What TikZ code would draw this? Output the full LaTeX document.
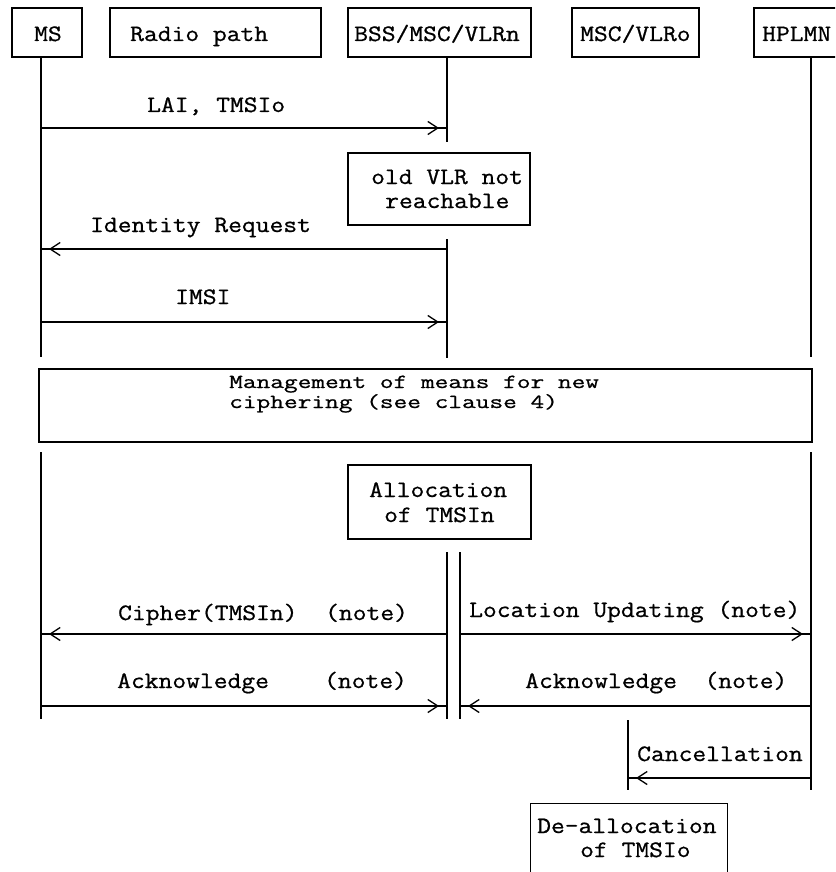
\documentclass[tikz,border=0pt]{standalone}
\usepackage{fontspec}
\setmonofont[FakeStretch=1.14,FakeBold=0.8]{Latin Modern Mono}
\newfontfamily\mgmtfont[FakeStretch=1.33,FakeBold=0.8]{Latin Modern Mono}
\usetikzlibrary{arrows.meta,decorations.markings}
\begin{document}
\begin{tikzpicture}[x=1pt,y=-1pt,
  every node/.style={font=\ttfamily\fontsize{23.5}{25}\selectfont, inner sep=0pt},
  box/.style={draw, line width=1.3pt, rectangle, inner sep=0pt},
  life/.style={line width=1.3pt},
  msg/.style={line width=1.3pt, postaction={decorate},
    decoration={markings, mark=at position 1 with {\arrow[xshift=-8pt]{Straight Barb[length=10pt,width=13pt,line width=1.3pt]}}}},
  lbl/.style={anchor=base west},
  mlbl/.style={anchor=base west, font=\mgmtfont\fontsize{20}{20}\selectfont}]
\fill[white] (0,0) rectangle (835,872);
\clip (0,0) rectangle (835,872);

% header boxes
\node[box, minimum width=70pt,  minimum height=49pt] (ms)    at (47,32.5)    {};
\node[box, minimum width=211pt, minimum height=49pt] (radio) at (215.5,32.5) {};
\node[box, minimum width=183pt, minimum height=49pt] (bss)   at (439.5,32.5) {};
\node[box, minimum width=127pt, minimum height=49pt] (vlro)  at (635.5,32.5) {};
\node[box, minimum width=114pt, minimum height=49pt] (hplmn) at (811,32.5)   {};
\node[lbl] (mst)    at (34,41)  {MS};
\node[lbl] (radiot) at (130,41) {Radio path};
\node[lbl] (bsst)   at (354,41) {BSS/MSC/VLRn};
\node[lbl] (vlrot)  at (580,41) {MSC/VLRo};
\node[lbl] (hplmnt) at (762,41) {HPLMN};

% lifelines
\coordinate (msA) at (41,57);   \coordinate (msB) at (41,357);
\coordinate (msC) at (41,452);  \coordinate (msD) at (41,719);
\coordinate (bsA) at (447,57);  \coordinate (bsB) at (447,142);
\coordinate (bsC) at (447,239); \coordinate (bsD) at (447,358);
\coordinate (bdA) at (447,552); \coordinate (bdB) at (447,719);
\coordinate (beA) at (460,552); \coordinate (beB) at (460,719);
\coordinate (hpA) at (811,57);  \coordinate (hpB) at (811,357);
\coordinate (hpC) at (811,452); \coordinate (hpD) at (811,790);
\coordinate (voA) at (628,720); \coordinate (voB) at (628,790);
\draw[life] (msA) -- (msB);
\draw[life] (msC) -- (msD);
\draw[life] (bsA) -- (bsB);
\draw[life] (bsC) -- (bsD);
\draw[life] (bdA) -- (bdB);
\draw[life] (beA) -- (beB);
\draw[life] (hpA) -- (hpB);
\draw[life] (hpC) -- (hpD);
\draw[life] (voA) -- (voB);

% boxes
\node[box, minimum width=182pt, minimum height=72pt] (oldvlr)  at (439,189)     {};
\node[box, minimum width=773pt, minimum height=73pt] (mgmt)    at (425.5,405.5) {};
\node[box, minimum width=183pt, minimum height=74pt] (alloc)   at (439.5,502)   {};
\node[box, minimum width=197pt, minimum height=77pt] (dealloc) at (529.5,803) [anchor=north west] {};
\node[lbl] (oldvlr1)  at (371,184) {old VLR not};
\node[lbl] (oldvlr2)  at (385,208) {reachable};
\node[mlbl] (mgmt1)   at (229,388) {Management of means for new};
\node[mlbl] (mgmt2)   at (229,408) {ciphering (see clause 4)};
\node[lbl] (alloc1)   at (369,497) {Allocation};
\node[lbl] (alloc2)   at (384,522) {of TMSIn};
\node[lbl] (dealloc1) at (537,833) {De-allocation};
\node[lbl] (dealloc2) at (580,857) {of TMSIo};

% messages
\coordinate (m1a) at (41,128);  \coordinate (m1b) at (447,128);
\coordinate (m2a) at (447,249); \coordinate (m2b) at (41,249);
\coordinate (m3a) at (41,322);  \coordinate (m3b) at (447,322);
\coordinate (m4a) at (447,634); \coordinate (m4b) at (41,634);
\coordinate (m5a) at (41,706);  \coordinate (m5b) at (447,706);
\coordinate (m6a) at (460,634); \coordinate (m6b) at (811,634);
\coordinate (m7a) at (811,706); \coordinate (m7b) at (460,706);
\coordinate (m8a) at (811,778); \coordinate (m8b) at (628,778);
\draw[msg] (m1a) -- (m1b);
\draw[msg] (m2a) -- (m2b);
\draw[msg] (m3a) -- (m3b);
\draw[msg] (m4a) -- (m4b);
\draw[msg] (m5a) -- (m5b);
\draw[msg] (m6a) -- (m6b);
\draw[msg] (m7a) -- (m7b);
\draw[msg] (m8a) -- (m8b);
\node[lbl] (l1) at (147,112) {LAI, TMSIo};
\node[lbl] (l2) at (90,232)  {Identity Request};
\node[lbl] (l3) at (175,304) {IMSI};
\node[lbl] (l4) at (118,620) {Cipher(TMSIn)~~(note)};
\node[lbl] (l5) at (117,688) {Acknowledge~~~~(note)};
\node[lbl] (l6) at (469,617) {Location Updating (note)};
\node[lbl] (l7) at (525,688) {Acknowledge~~(note)};
\node[lbl] (l8) at (637,761) {Cancellation};
\end{tikzpicture}
\end{document}
